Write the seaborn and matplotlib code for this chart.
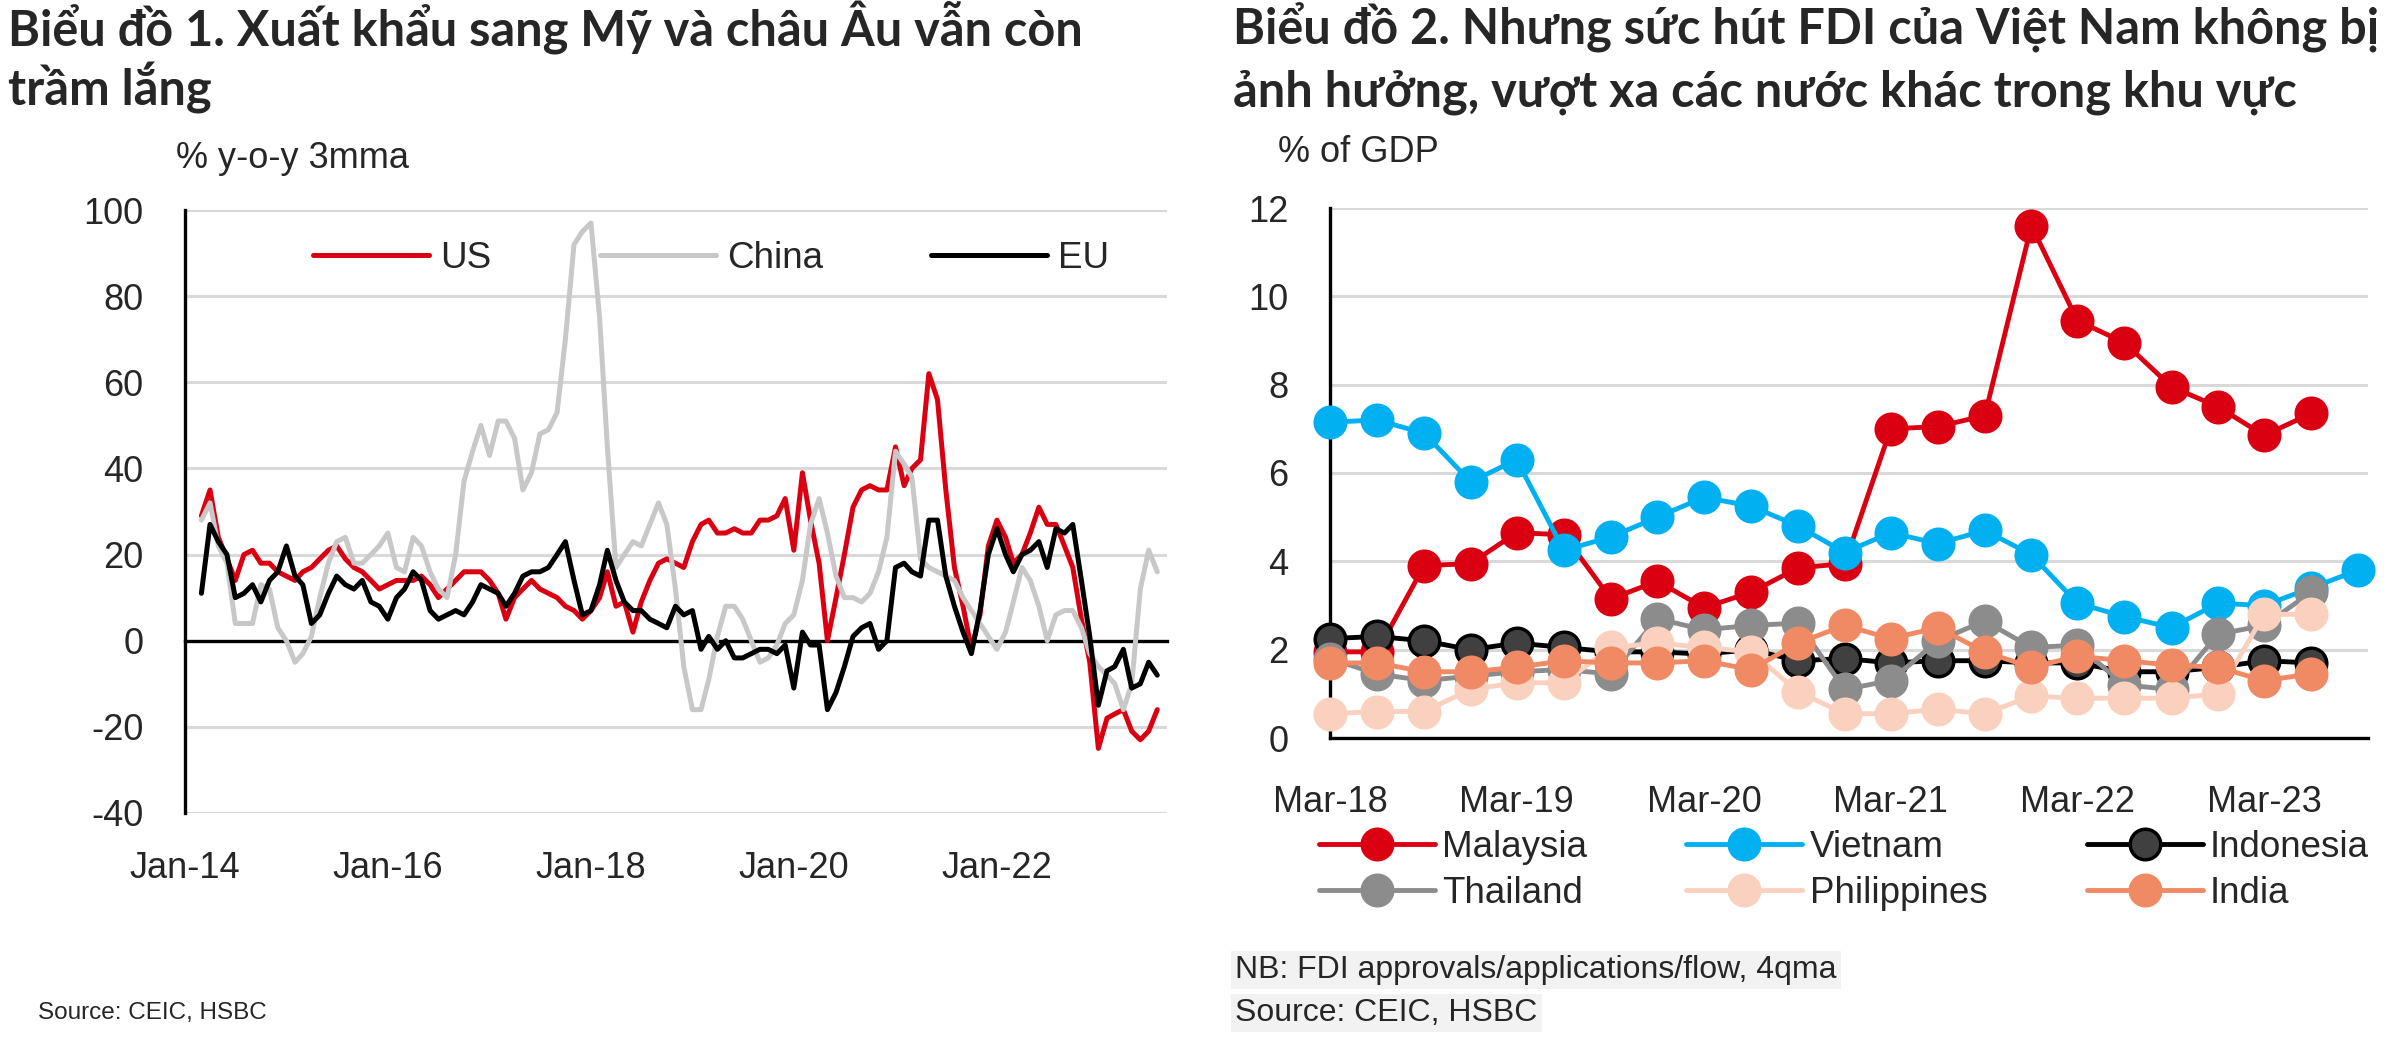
import numpy as np
import pandas as pd
import matplotlib
matplotlib.use("Agg")
import matplotlib.pyplot as plt
import matplotlib.dates as mdates
import seaborn as sns

sns.set_style("white")
NARROW = ['Liberation Sans Narrow', 'Liberation Sans', 'DejaVu Sans']
BOLD = ['Lato', 'Noto Sans', 'DejaVu Sans']
plt.rcParams['font.family'] = NARROW
plt.rcParams['axes.unicode_minus'] = False

# ---- chart 1: exports y-o-y 3mma, monthly from Mar-14
start_1 = '2014-03-01'
us = [29, 35, 24, 19, 14, 20, 21, 18, 18, 16,
      15, 14, 16, 17, 19, 21, 22, 19, 17, 16,
      14, 12, 13, 14, 14, 14, 15, 13, 10, 12,
      14, 16, 16, 16, 14, 11, 5, 10, 12, 14,
      12, 11, 10, 8, 7, 5, 7, 10, 16, 8,
      9, 2, 9, 14, 18, 19, 18, 17, 23, 27,
      28, 25, 25, 26, 25, 25, 28, 28, 29, 33,
      21, 39, 28, 18, 0, 10, 20, 31, 35, 36,
      35, 35, 45, 36, 40, 42, 62, 56, 35, 17,
      8, -2, 6, 22, 28, 24, 18, 20, 25, 31,
      27, 27, 22, 17, 5, -5, -25, -18, -17, -16,
      -21, -23, -21, -16]
china = [28, 32, 22, 18, 4, 4, 4, 13, 12, 3,
         0, -5, -3, 1, 10, 18, 23, 24, 18, 18,
         20, 22, 25, 17, 16, 24, 22, 16, 12, 10,
         20, 37, 44, 50, 43, 51, 51, 47, 35, 39,
         48, 49, 53, 70, 92, 95, 97, 75, 45, 17,
         20, 23, 22, 27, 32, 27, 12, -6, -16, -16,
         -9, 1, 8, 8, 5, 0, -5, -4, -1, 4,
         6, 14, 27, 33, 25, 15, 10, 10, 9, 11,
         16, 24, 44, 41, 38, 19, 17, 16, 15, 14,
         10, 7, 4, 1, -2, 2, 9, 17, 14, 8,
         0, 6, 7, 7, 3, -3, -6, -8, -10, -16,
         -10, 12, 21, 16]
eu = [11, 27, 23, 20, 10, 11, 13, 9, 14, 16,
      22, 15, 13, 4, 6, 11, 15, 13, 12, 14,
      9, 8, 5, 10, 12, 16, 14, 7, 5, 6,
      7, 6, 9, 13, 12, 11, 8, 11, 15, 16,
      16, 17, 20, 23, 14, 6, 7, 13, 21, 14,
      9, 7, 7, 5, 4, 3, 8, 6, 7, -2,
      1, -2, 0, -4, -4, -3, -2, -2, -3, -1,
      -11, 2, -1, -1, -16, -12, -6, 1, 3, 4,
      -2, 0, 17, 18, 16, 15, 28, 28, 15, 8,
      2, -3, 7, 20, 26, 20, 16, 20, 21, 23,
      17, 26, 25, 27, 14, 1, -15, -7, -6, -2,
      -11, -10, -5, -8]
series_1 = ['US', 'China', 'EU']
colors_1 = ['#DB0011', '#C8C8C8', '#000000']

# ---- chart 2: FDI % of GDP, quarterly from Mar-18
start_2 = '2018-03-01'
malaysia = [1.95, 1.95, 3.9, 3.95, 4.65, 4.6, 3.15, 3.55, 2.95, 3.3, 3.85,
            3.95, 7.0, 7.05, 7.3, 11.6, 9.45, 8.95, 7.95, 7.5, 6.85, 7.35]
vietnam = [7.15, 7.2, 6.9, 5.8, 6.3, 4.25, 4.55, 5.0, 5.45, 5.25, 4.8,
           4.2, 4.65, 4.4, 4.7, 4.15, 3.05, 2.75, 2.5, 3.05, 3.0, 3.4, 3.8]
indonesia = [2.25, 2.3, 2.2, 2.0, 2.15, 2.05, 1.95, 1.95, 1.9, 2.0, 1.75,
             1.8, 1.7, 1.75, 1.75, 1.7, 1.7, 1.5, 1.5, 1.6, 1.75, 1.7]
thailand = [1.8, 1.45, 1.3, 1.4, 1.5, 1.55, 1.45, 2.7, 2.45, 2.55, 2.6,
            1.1, 1.3, 2.2, 2.65, 2.05, 2.1, 1.2, 1.1, 2.35, 2.55, 3.3]
philippines = [0.55, 0.6, 0.6, 1.1, 1.25, 1.25, 2.05, 2.15, 2.05, 1.95, 1.05,
               0.55, 0.55, 0.65, 0.55, 0.95, 0.9, 0.9, 0.9, 1.0, 2.8, 2.8]
india = [1.7, 1.7, 1.5, 1.5, 1.6, 1.75, 1.7, 1.7, 1.75, 1.55, 2.15,
         2.55, 2.25, 2.5, 1.95, 1.6, 1.85, 1.75, 1.65, 1.6, 1.3, 1.45]
series_2 = ['Malaysia', 'Vietnam', 'Indonesia', 'Thailand', 'Philippines', 'India']
colors_2 = ['#DB0011', '#00B0F0', '#000000', '#8C8C8C', '#FAD0BE', '#F08A65']
faces_2 = ['#DB0011', '#00B0F0', '#404040', '#8C8C8C', '#FAD0BE', '#F08A65']

W, H = 2401, 1043
fig = plt.figure(figsize=(W / 100, H / 100), dpi=100)

TICK_FS = 26
LEG_FS = 26.5


def box(l, t, r, b):
    return [l / W, 1 - b / H, (r - l) / W, (b - t) / H]


def style_axes(ax):
    ax.grid(axis='y', color='#D9D9D9', lw=2.2, zorder=0)
    ax.grid(axis='x', visible=False)
    for s in ['top', 'right']:
        ax.spines[s].set_visible(False)
    ax.spines['left'].set_color('black')
    ax.spines['left'].set_linewidth(2.4)
    ax.spines['bottom'].set_color('black')
    ax.spines['bottom'].set_linewidth(2.4)
    ax.tick_params(axis='y', direction='out', length=10, width=2.2,
                   color='black', labelsize=TICK_FS, pad=20)
    ax.tick_params(axis='x', direction='out', length=10, width=2.2,
                   color='black', labelsize=TICK_FS)


# ---------------- chart 1
df1 = pd.DataFrame({'date': pd.date_range(start_1, periods=len(us), freq='MS'),
                    'US': us, 'China': china, 'EU': eu})
ax1 = fig.add_axes(box(185, 210, 1167, 813))
for name, col in zip(series_1, colors_1):
    sns.lineplot(data=df1, x='date', y=name, ax=ax1, color=col, lw=3.6,
                 label=name, zorder=3)
style_axes(ax1)
ax1.set_ylim(-40, 100)
ax1.set_yticks(range(-40, 101, 20))
ax1.set_xlim(pd.Timestamp('2014-01-01'), pd.Timestamp('2023-09-05'))
loc1 = mdates.YearLocator(base=2, month=1, day=1)
fmt1 = mdates.DateFormatter('%b-%y')
ax1.xaxis.set_major_locator(loc1)
ax1.spines['bottom'].set_position(('data', 0))
ax1.tick_params(axis='x', labelbottom=False)
sec = ax1.secondary_xaxis('bottom')
sec.xaxis.set_major_locator(loc1)
sec.xaxis.set_major_formatter(fmt1)
sec.tick_params(length=0, labelsize=TICK_FS, pad=27)
sec.spines['bottom'].set_visible(False)
ax1.set_xlabel('')
ax1.set_ylabel('')
ax1.legend(loc='center', bbox_to_anchor=(0.536, 0.92), ncol=3, frameon=False,
           fontsize=LEG_FS, handlelength=3.15, handletextpad=0.3, columnspacing=2.95)

# ---------------- chart 2
df2 = pd.DataFrame({'date': pd.date_range(start_2, periods=len(vietnam), freq='3MS')})
vals_2 = [malaysia, vietnam, indonesia, thailand, philippines, india]
ax2 = fig.add_axes(box(1330, 208, 2368, 738))
for name, vals, col, face in zip(series_2, vals_2, colors_2, faces_2):
    d = df2.iloc[:len(vals)].assign(v=vals)
    sns.lineplot(data=d, x='date', y='v', ax=ax2, color=col, lw=3.5,
                 marker='o', markersize=22, markerfacecolor=face,
                 markeredgecolor=col, markeredgewidth=2.5,
                 label=name, zorder=3, clip_on=False)
style_axes(ax2)
ax2.set_ylim(0, 12)
ax2.set_yticks(range(0, 13, 2))
ax2.set_xlim(pd.Timestamp('2018-03-01'), pd.Timestamp('2023-09-20'))
ax2.xaxis.set_major_locator(mdates.MonthLocator(bymonth=3))
ax2.xaxis.set_major_formatter(mdates.DateFormatter('%b-%y'))
ax2.tick_params(axis='x', pad=24)
ax2.set_xlabel('')
ax2.set_ylabel('')
h, l = ax2.get_legend_handles_labels()
order = [0, 3, 1, 4, 2, 5]
ax2.legend([h[i] for i in order], [l[i] for i in order], loc='center',
           bbox_to_anchor=(0.495, -0.25), ncol=3, frameon=False, fontsize=LEG_FS,
           handlelength=3.15, handletextpad=0.2, columnspacing=2.7,
           labelspacing=0.3)

# ---------------- text
TITLE_FS = 35
fig.text(8 / W, 1 - 28 / H, 'Biểu đồ 1. Xuất khẩu sang Mỹ và châu Âu vẫn còn',
         family=BOLD, weight='bold', size=TITLE_FS, va='center')
fig.text(8 / W, 1 - 88 / H, 'trầm lắng', family=BOLD, weight='bold',
         size=TITLE_FS, va='center')
fig.text(1233 / W, 1 - 28 / H, 'Biểu đồ 2. Nhưng sức hút FDI của Việt Nam không bị',
         family=BOLD, weight='bold', size=TITLE_FS, va='center')
fig.text(1233 / W, 1 - 92 / H, 'ảnh hưởng, vượt xa các nước khác trong khu vực',
         family=BOLD, weight='bold', size=TITLE_FS, va='center')
fig.text(176 / W, 1 - 158 / H, '% y-o-y 3mma', size=26, va='center')
fig.text(1278 / W, 1 - 153 / H, '% of GDP', size=26, va='center')
fig.text(38 / W, 1 - 1013 / H, 'Source: CEIC, HSBC', size=17.5, va='center')
fig.text(1235 / W, 1 - 970 / H, 'NB: FDI approvals/applications/flow, 4qma', size=23,
         va='center', bbox=dict(facecolor='#F2F2F2', edgecolor='none', pad=3))
fig.text(1235 / W, 1 - 1013 / H, 'Source: CEIC, HSBC', size=23, va='center',
         bbox=dict(facecolor='#F2F2F2', edgecolor='none', pad=3))

fig.savefig('out.png', dpi=100, facecolor='white')
